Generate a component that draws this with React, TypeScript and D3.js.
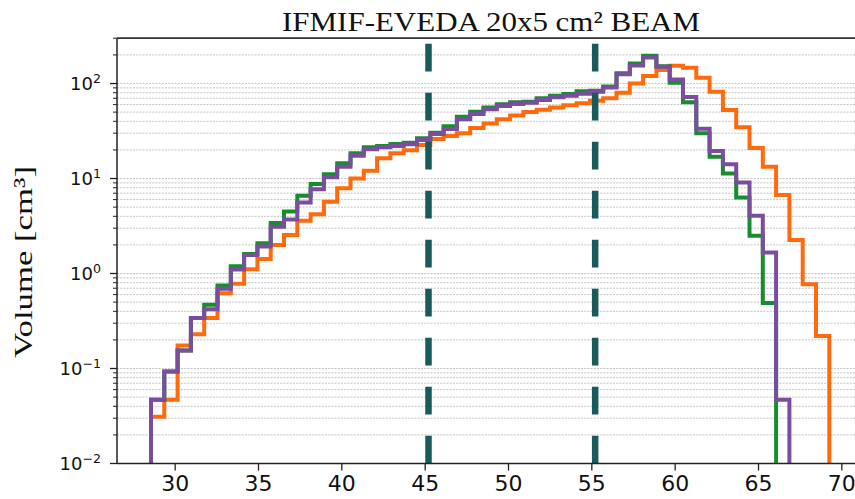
import React from 'react';
import * as d3 from 'd3';

const chartTitle = 'IFMIF-EVEDA 20x5 cm² BEAM';
const yAxisLabel = 'Volume [cm³]';

// histogram bin edges: start and width (x values)
const binStart = 28.55;
const binWidth = 0.798;

const orangeValues = [
  0.031, 0.047, 0.175, 0.23, 0.34, 0.62, 0.78, 1.11, 1.42, 2.0,
  2.54, 3.6, 4.2, 5.7, 7.9, 10, 12.1, 16.3, 18.4, 19.9,
  22.5, 26, 28, 30, 34, 38, 42, 46, 50, 53,
  56, 59, 62, 66, 70, 80, 100, 120, 139, 154,
  147, 115, 82, 52.6, 34.6, 21, 13.3, 6.7, 2.25, 0.77,
  0.22,
];

const greenValues = [
  0.047, 0.093, 0.155, 0.34, 0.47, 0.75, 1.19, 1.6, 2.08, 3.4,
  4.5, 6.6, 8.75, 11.1, 14.5, 18.4, 21.3, 22, 23.1, 23.8,
  26.5, 30.3, 35.5, 44.7, 50.5, 56, 60.4, 63.4, 64.3, 69.8,
  74.4, 77.5, 83, 84, 93, 128, 162, 196, 152, 102,
  63.4, 30, 17, 11.3, 6.3, 2.5, 0.49,
];

const purpleValues = [
  0.047, 0.093, 0.155, 0.34, 0.42, 0.69, 1.1, 1.57, 1.92, 3.1,
  3.7, 5.6, 7.7, 10.3, 13.3, 17.4, 20.3, 21.3, 22, 23,
  25.4, 29.4, 33.3, 42, 47.7, 53.5, 58, 60.8, 62.8, 67,
  71.6, 74.4, 78, 82, 91, 125, 155, 188, 150, 110,
  72, 33.5, 19.5, 14.1, 9.1, 4.06, 1.66, 0.047,
];

const dashedLinesX = [45.2, 55.2];
const xTickValues = [30, 35, 40, 45, 50, 55, 60, 65, 70];
const yMajorExponents = [-2, -1, 0, 1, 2];

const COLORS = {
  orange: '#ff6a0d',
  green: '#1a8c30',
  purple: '#7a4d9e',
  dashed: '#195a5a',
};

export default function App() {
  const W = 855;
  const H = 499;
  const left = 117;
  const right = 865;
  const top = 38.2;
  const bottom = 463.5;

  const x = d3.scaleLinear().domain([26.51, 71.39]).range([left, right]);
  const y = d3.scaleLog().domain([0.01, 300]).range([bottom, top]);

  const edge = (i: number) => binStart + i * binWidth;
  const stepPath = (vals: number[]) => {
    const pts: [number, number][] = [];
    pts.push([edge(0), 1e-4]);
    vals.forEach((v, i) => {
      pts.push([edge(i), v]);
      pts.push([edge(i + 1), v]);
    });
    pts.push([edge(vals.length), 1e-4]);
    return d3
      .line<[number, number]>()
      .x((d) => x(d[0]))
      .y((d) => y(d[1]))(pts) as string;
  };

  const minorTicks: number[] = [];
  yMajorExponents.forEach((k) => {
    for (let m = 2; m <= 9; m++) {
      const v = m * Math.pow(10, k);
      if (v <= 300) minorTicks.push(v);
    }
  });
  const majorTicks = yMajorExponents.map((k) => Math.pow(10, k));

  const expLabel = (k: number) => (k < 0 ? '\u2212' + Math.abs(k) : String(k));

  return (
    <svg
      width={W}
      height={H}
      style={{ position: 'absolute', left: 0, top: 0, background: '#fff' }}
      fontFamily="DejaVu Sans, sans-serif"
    >
      <defs>
        <clipPath id="plotClip">
          <rect x={left} y={top} width={right - left} height={bottom - top} />
        </clipPath>
      </defs>

      {/* gridlines */}
      {[...majorTicks, ...minorTicks].map((v, i) => (
        <line
          key={'g' + i}
          x1={left}
          x2={right}
          y1={y(v)}
          y2={y(v)}
          stroke="#c4c4c4"
          strokeWidth={1}
          strokeDasharray="2 1.2"
        />
      ))}

      <g clipPath="url(#plotClip)" fill="none" strokeLinejoin="miter" strokeLinecap="butt">
        <path d={stepPath(orangeValues)} stroke={COLORS.orange} strokeWidth={4} />
        <path d={stepPath(greenValues)} stroke={COLORS.green} strokeWidth={4} />
        <path d={stepPath(purpleValues)} stroke={COLORS.purple} strokeWidth={4} />
        {dashedLinesX.map((dx, i) => (
          <path
            key={'d' + i}
            d={`M${x(dx)},${bottom}L${x(dx)},${top}`}
            stroke={COLORS.dashed}
            strokeWidth={6.5}
            strokeDasharray="27.7 21.3"
          />
        ))}
      </g>

      {/* spines */}
      <line x1={left} x2={left} y1={top} y2={bottom} stroke="#222" strokeWidth={1.5} />
      <line x1={left} x2={right} y1={bottom} y2={bottom} stroke="#222" strokeWidth={1.5} />
      <line x1={left} x2={right} y1={top} y2={top} stroke="#333" strokeWidth={1.8} />
      <line x1={right} x2={right} y1={top} y2={bottom} stroke="#222" strokeWidth={1.5} />

      {/* y ticks */}
      {majorTicks.map((v, i) => (
        <line key={'ym' + i} x1={left - 7} x2={left} y1={y(v)} y2={y(v)} stroke="#222" strokeWidth={1.3} />
      ))}
      {minorTicks.map((v, i) => (
        <line key={'yn' + i} x1={left - 4} x2={left} y1={y(v)} y2={y(v)} stroke="#222" strokeWidth={1} />
      ))}
      {yMajorExponents.map((k) => (
        <text key={'yl' + k} x={101} y={y(Math.pow(10, k)) + 6.5} textAnchor="end" fontSize={18} fill="#111">
          10
          <tspan fontSize={12.6} dy={-7.5}>
            {expLabel(k)}
          </tspan>
        </text>
      ))}

      {/* x ticks */}
      {xTickValues.map((v) => (
        <g key={'x' + v}>
          <line x1={x(v)} x2={x(v)} y1={bottom} y2={bottom + 7} stroke="#222" strokeWidth={1.3} />
          <text x={x(v)} y={491} textAnchor="middle" fontSize={22} fill="#111">
            {v}
          </text>
        </g>
      ))}

      {/* title */}
      <text
        x={(left + right) / 2}
        y={31}
        textAnchor="middle"
        fontFamily="Liberation Serif, serif"
        fontSize={28}
        textLength={418}
        lengthAdjust="spacingAndGlyphs"
        fill="#111"
      >
        {chartTitle}
      </text>

      {/* y label */}
      <text
        transform={`translate(32, 262) rotate(-90)`}
        textAnchor="middle"
        fontFamily="Liberation Serif, serif"
        fontSize={26}
        textLength={192}
        lengthAdjust="spacingAndGlyphs"
        fill="#111"
      >
        {yAxisLabel}
      </text>
    </svg>
  );
}
